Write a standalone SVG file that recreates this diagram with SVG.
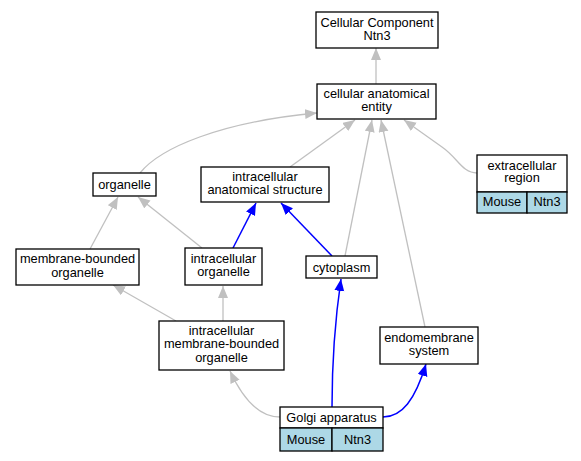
<svg xmlns="http://www.w3.org/2000/svg" width="581" height="461" viewBox="0 0 581 461">
<style>
text{font-family:"Liberation Sans",Arial,sans-serif;font-size:12.8px;fill:#000;text-anchor:middle}
.box{fill:#fff;stroke:#000;stroke-width:1.3}
.cell{fill:#add8e6;stroke:#000;stroke-width:1.3}
.g{fill:none;stroke:#c0c0c0;stroke-width:1.3}
.b{fill:none;stroke:#0000ff;stroke-width:1.5}
</style>
<defs>
<marker id="ag" markerUnits="userSpaceOnUse" markerWidth="13" markerHeight="11" refX="12" refY="5" orient="auto" viewBox="0 0 13 11"><path d="M0,0 L12,5 L0,10 z" fill="#c0c0c0"/></marker>
<marker id="ab" markerUnits="userSpaceOnUse" markerWidth="13" markerHeight="11" refX="12" refY="5" orient="auto" viewBox="0 0 13 11"><path d="M0,0 L12,5 L0,10 z" fill="#0000ff"/></marker>
</defs>
<rect width="581" height="461" fill="#fff"/>
<g id="connectors">
<path class="g" marker-end="url(#ag)" d="M376,84 L376,48"/>
<path class="g" marker-end="url(#ag)" d="M140,173 C160,148 220,122 317,113"/>
<path class="g" marker-end="url(#ag)" d="M290,167 L355,120"/>
<path class="g" marker-end="url(#ag)" d="M345,256 L372,120"/>
<path class="g" marker-end="url(#ag)" d="M425,327 L381,120"/>
<path class="g" marker-end="url(#ag)" d="M477,173 C462,173 458,158 442,147 L404,120"/>
<path class="g" marker-end="url(#ag)" d="M90,249 L118,197"/>
<path class="g" marker-end="url(#ag)" d="M202,248 L138,197"/>
<path class="b" marker-end="url(#ab)" d="M233,248 L256,203"/>
<path class="b" marker-end="url(#ab)" d="M332,256 L281,203"/>
<path class="g" marker-end="url(#ag)" d="M176,321 L113,285"/>
<path class="g" marker-end="url(#ag)" d="M223,321 L223,286"/>
<path class="g" marker-end="url(#ag)" d="M280,417 C258,417 242,397 230,371"/>
<path class="b" marker-end="url(#ab)" d="M332,407 C332,360 335,320 341,279"/>
<path class="b" marker-end="url(#ab)" d="M383,417 C402,417 415,400 426,364"/>
</g>
<g id="cc">
<rect class="box" x="316" y="12" width="122" height="36"/>
<text x="377" y="26.5">Cellular Component</text>
<text x="377" y="39.5">Ntn3</text>
</g>
<g id="cae">
<rect class="box" x="317" y="84" width="119" height="35"/>
<text x="376.5" y="98">cellular anatomical</text>
<text x="376.5" y="111">entity</text>
</g>
<g id="organelle">
<rect class="box" x="93" y="173" width="63" height="23"/>
<text x="124.5" y="189">organelle</text>
</g>
<g id="ias">
<rect class="box" x="201" y="167" width="128" height="35"/>
<text x="265" y="181">intracellular</text>
<text x="265" y="194">anatomical structure</text>
</g>
<g id="extracellular">
<rect class="box" x="477" y="155" width="90" height="37"/>
<rect class="cell" x="477" y="192" width="50" height="21"/>
<rect class="cell" x="527" y="192" width="40" height="21"/>
<text x="522" y="169.5">extracellular</text>
<text x="522" y="182">region</text>
<text x="502" y="206">Mouse</text>
<text x="547" y="206">Ntn3</text>
</g>
<g id="mbo">
<rect class="box" x="16" y="249" width="123" height="36"/>
<text x="77.5" y="263">membrane-bounded</text>
<text x="77.5" y="276.5">organelle</text>
</g>
<g id="io">
<rect class="box" x="185" y="248" width="77" height="37"/>
<text x="223.5" y="262.5">intracellular</text>
<text x="223.5" y="276">organelle</text>
</g>
<g id="cytoplasm">
<rect class="box" x="306" y="256" width="71" height="22"/>
<text x="341.5" y="271.5">cytoplasm</text>
</g>
<g id="imbo">
<rect class="box" x="159" y="321" width="125" height="49"/>
<text x="221.5" y="334.5">intracellular</text>
<text x="221.5" y="348">membrane-bounded</text>
<text x="221.5" y="361.5">organelle</text>
</g>
<g id="endomembrane">
<rect class="box" x="380" y="327" width="98" height="37"/>
<text x="429" y="341.5">endomembrane</text>
<text x="429" y="355">system</text>
</g>
<g id="golgi">
<rect class="box" x="280" y="407" width="103" height="21"/>
<rect class="cell" x="280" y="428" width="52" height="23"/>
<rect class="cell" x="332" y="428" width="51" height="23"/>
<text x="331.5" y="422">Golgi apparatus</text>
<text x="306" y="444">Mouse</text>
<text x="357.5" y="444">Ntn3</text>
</g>
</svg>
